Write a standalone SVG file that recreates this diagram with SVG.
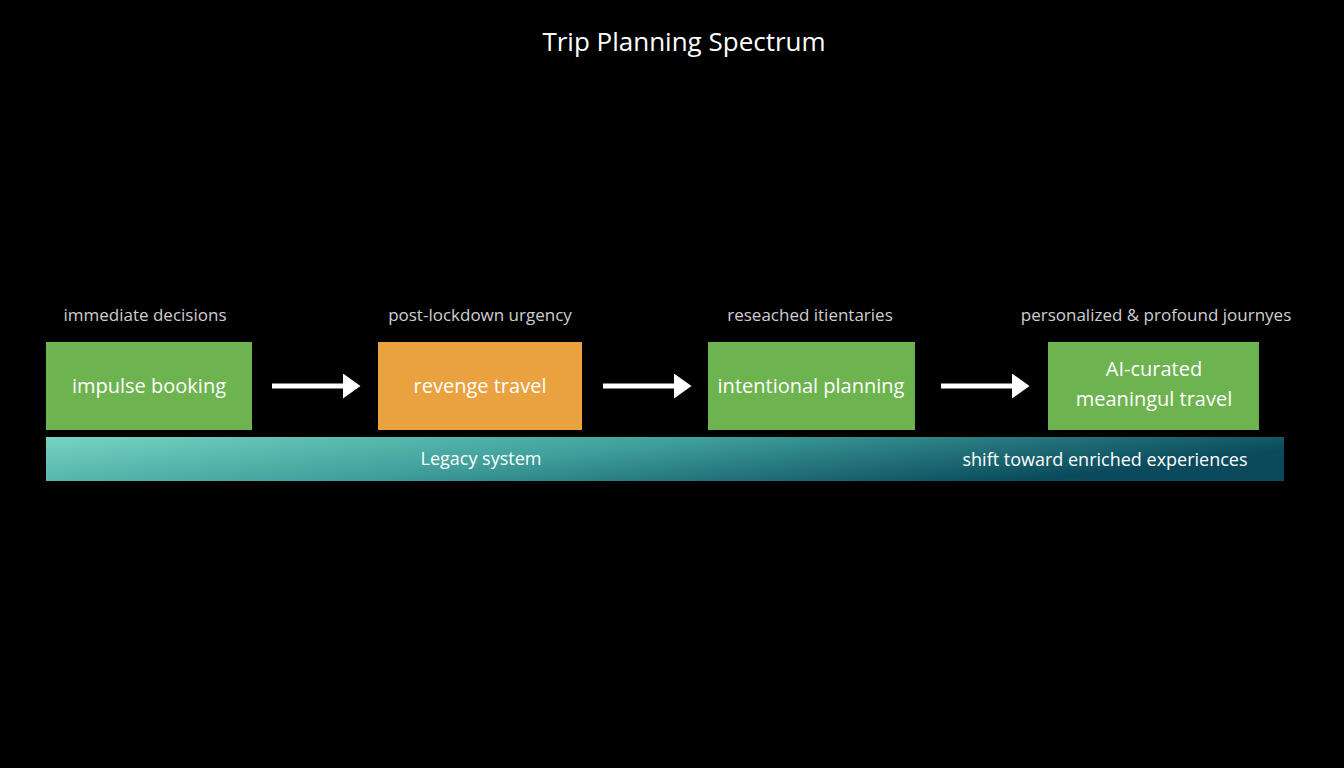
<svg xmlns="http://www.w3.org/2000/svg" width="1344" height="768" viewBox="0 0 1344 768">
<defs>
<linearGradient id="bar" x1="0" y1="0" x2="1" y2="0.3">
<stop offset="0" stop-color="#76d4c3"/>
<stop offset="0.5" stop-color="#3e9e9a"/>
<stop offset="1" stop-color="#0a4a5c"/>
</linearGradient>
<marker id="ah" markerWidth="4" markerHeight="5" refX="1" refY="2.5" orient="auto" markerUnits="strokeWidth">
<path d="M0,0 L3.5,2.5 L0,5 Z" fill="#fff"/>
</marker>
<style>
text{font-family:"Open Sans","Liberation Sans",sans-serif;text-anchor:middle}
.lbl{fill:#cfcfcf;font-size:17px}
.nt{fill:#fff;font-size:20px}
.g{fill:#6db34f}
.o{fill:#e9a23f}
.c{stroke:#fff;stroke-width:5;fill:none;marker-end:url(#ah)}
</style>
</defs>
<rect width="1344" height="768" fill="#000"/>
<text x="684" y="51" fill="#fff" font-size="26">Trip Planning Spectrum</text>
<text class="lbl" x="145" y="321">immediate decisions</text>
<text class="lbl" x="480" y="321">post-lockdown urgency</text>
<text class="lbl" x="810" y="321">reseached itientaries</text>
<text class="lbl" x="1156" y="321">personalized &amp; profound journyes</text>
<g id="n1"><rect class="g" x="46" y="342" width="206" height="88"/><text class="nt" x="149" y="393">impulse booking</text></g>
<g id="n2"><rect class="o" x="378" y="342" width="204" height="88"/><text class="nt" x="480" y="393">revenge travel</text></g>
<g id="n3"><rect class="g" x="708" y="342" width="207" height="88"/><text class="nt" x="811" y="393">intentional planning</text></g>
<g id="n4"><rect class="g" x="1048" y="342" width="211" height="88"/><text class="nt" x="1154" y="376">AI-curated</text><text class="nt" x="1154" y="406">meaningul travel</text></g>
<g id="connectors">
<path class="c" d="M272,386 H348"/>
<path class="c" d="M603,386 H679"/>
<path class="c" d="M941,386 H1017"/>
</g>
<g id="bar"><rect x="46" y="437" width="1238" height="44" fill="url(#bar)"/>
<text x="481" y="465" fill="#fff" font-size="18">Legacy system</text>
<text x="1105" y="466" fill="#fff" font-size="18">shift toward enriched experiences</text></g>
</svg>
